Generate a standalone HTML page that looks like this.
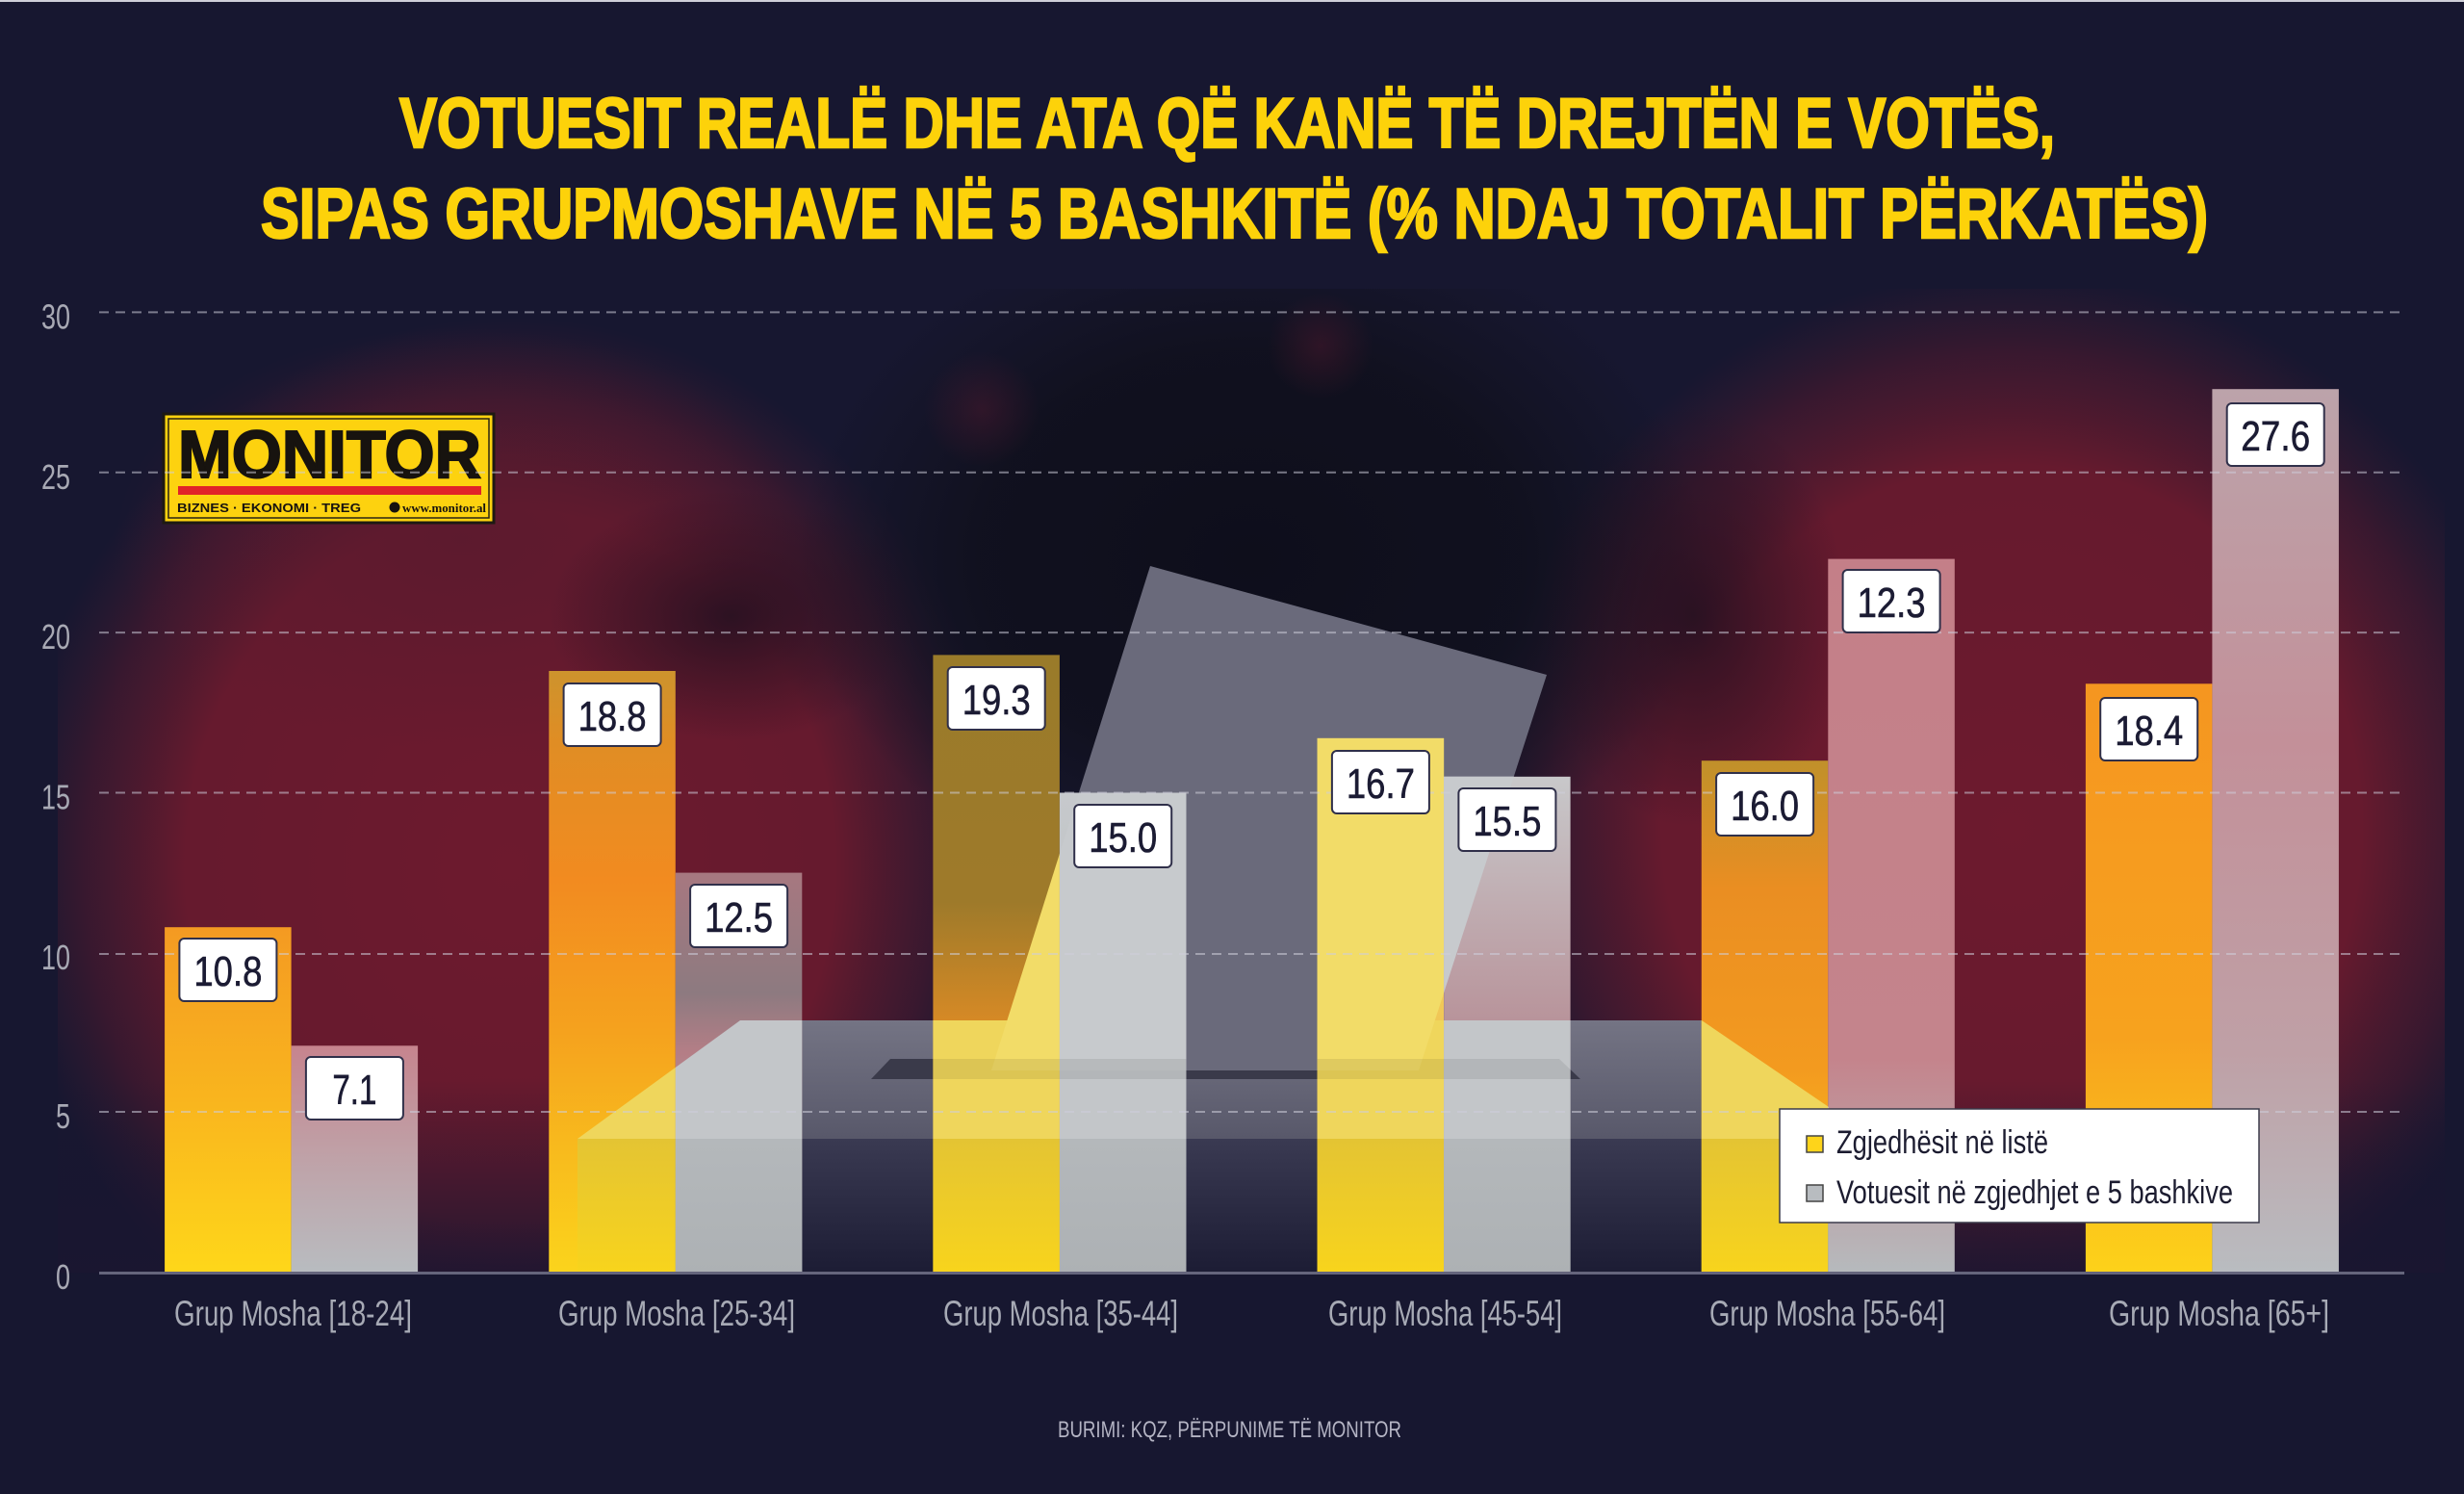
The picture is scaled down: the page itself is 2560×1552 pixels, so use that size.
<!DOCTYPE html>
<html><head><meta charset="utf-8"><style>
html,body{margin:0;padding:0;background:#171730;}
svg{display:block}
text{font-family:"Liberation Sans Narrow","Liberation Sans",sans-serif;}
</style></head><body>
<svg width="2560" height="1552" viewBox="0 0 2560 1552" xmlns="http://www.w3.org/2000/svg">
<defs>
 <clipPath id="plotclip"><rect x="60" y="300" width="2480" height="1022.5"/></clipPath>
 <radialGradient id="maroon"><stop offset="0" stop-color="#6d1a2e" stop-opacity="1"/><stop offset="0.65" stop-color="#6a1a2e" stop-opacity="0.95"/><stop offset="0.85" stop-color="#5a1a2e" stop-opacity="0.5"/><stop offset="1" stop-color="#4a1a2e" stop-opacity="0"/></radialGradient>
 <radialGradient id="maroonSoft"><stop offset="0" stop-color="#5a1a2e" stop-opacity="0.8"/><stop offset="1" stop-color="#5a1a2e" stop-opacity="0"/></radialGradient>
 <radialGradient id="dark"><stop offset="0" stop-color="#0e0e1b" stop-opacity="1"/><stop offset="0.6" stop-color="#10101d" stop-opacity="0.9"/><stop offset="1" stop-color="#12121f" stop-opacity="0"/></radialGradient>
 <radialGradient id="shadow"><stop offset="0" stop-color="#221020" stop-opacity="0.85"/><stop offset="1" stop-color="#221020" stop-opacity="0"/></radialGradient>
 <radialGradient id="spot"><stop offset="0" stop-color="#5a1a30" stop-opacity="0.4"/><stop offset="1" stop-color="#5a1a30" stop-opacity="0"/></radialGradient>
 <linearGradient id="bottomDark" x1="0" y1="0" x2="0" y2="1"><stop offset="0" stop-color="#1a1630" stop-opacity="0"/><stop offset="1" stop-color="#1a1630" stop-opacity="0.85"/></linearGradient>
 <linearGradient id="boxTop" x1="0" y1="0" x2="0" y2="1"><stop offset="0" stop-color="#747484"/><stop offset="1" stop-color="#58586a"/></linearGradient>
 <linearGradient id="boxFront" x1="0" y1="0" x2="0" y2="1"><stop offset="0" stop-color="#3a3a52"/><stop offset="1" stop-color="#1c1c34"/></linearGradient>
 <linearGradient id="y1" x1="0" y1="0" x2="0" y2="1"><stop offset="0" stop-color="#f49a22"/><stop offset="0.5" stop-color="#f9b51e"/><stop offset="1" stop-color="#fed71a"/></linearGradient>
 <linearGradient id="g1" x1="0" y1="0" x2="0" y2="1"><stop offset="0" stop-color="#c6848e"/><stop offset="0.5" stop-color="#bfa2a8"/><stop offset="1" stop-color="#b8bcc0"/></linearGradient>
 <linearGradient id="y2" x1="0" y1="0" x2="0" y2="1"><stop offset="0" stop-color="#cd932d"/><stop offset="0.12" stop-color="#e08d24"/><stop offset="0.35" stop-color="#f28b20"/><stop offset="0.6" stop-color="#f5a21e"/><stop offset="1" stop-color="#fbd41c"/></linearGradient>
 <linearGradient id="g2" x1="0" y1="0" x2="0" y2="1"><stop offset="0" stop-color="#a77880"/><stop offset="0.3" stop-color="#8d7a80"/><stop offset="0.45" stop-color="#b47e86"/><stop offset="1" stop-color="#b2b6b9"/></linearGradient>
 <linearGradient id="y3" x1="0" y1="0" x2="0" y2="1"><stop offset="0" stop-color="#9a7b2a"/><stop offset="0.4" stop-color="#9e7a2a"/><stop offset="0.6" stop-color="#d88a25"/><stop offset="1" stop-color="#e8c836"/></linearGradient>
 <linearGradient id="g3" x1="0" y1="0" x2="0" y2="1"><stop offset="0" stop-color="#c6c9cc"/><stop offset="1" stop-color="#b0b4b7"/></linearGradient>
 <linearGradient id="y4" x1="0" y1="0" x2="0" y2="1"><stop offset="0" stop-color="#f2dc6a"/><stop offset="0.7" stop-color="#f0c050"/><stop offset="1" stop-color="#e8c836"/></linearGradient>
 <linearGradient id="g4" x1="0" y1="0" x2="0" y2="1"><stop offset="0" stop-color="#c8c8ca"/><stop offset="0.5" stop-color="#b8939a"/><stop offset="1" stop-color="#b0b4b7"/></linearGradient>
 <linearGradient id="y5" x1="0" y1="0" x2="0" y2="1"><stop offset="0" stop-color="#c0902a"/><stop offset="0.25" stop-color="#ea8e22"/><stop offset="0.6" stop-color="#f39a1f"/><stop offset="1" stop-color="#fdd51c"/></linearGradient>
 <linearGradient id="g5" x1="0" y1="0" x2="0" y2="1"><stop offset="0" stop-color="#c47f88"/><stop offset="0.7" stop-color="#c4848c"/><stop offset="1" stop-color="#b6babd"/></linearGradient>
 <linearGradient id="y6" x1="0" y1="0" x2="0" y2="1"><stop offset="0" stop-color="#f59620"/><stop offset="0.6" stop-color="#f7a21e"/><stop offset="1" stop-color="#fdd21a"/></linearGradient>
 <linearGradient id="g6" x1="0" y1="0" x2="0" y2="1"><stop offset="0" stop-color="#bca3aa"/><stop offset="0.4" stop-color="#c39099"/><stop offset="0.75" stop-color="#bfa0a6"/><stop offset="1" stop-color="#b9bcc0"/></linearGradient>
 <linearGradient id="frontY" x1="0" y1="0" x2="0" y2="1"><stop offset="0" stop-color="#e4c433"/><stop offset="1" stop-color="#f8d41c"/></linearGradient>
 <linearGradient id="frontG" x1="0" y1="0" x2="0" y2="1"><stop offset="0" stop-color="#b4b8bb"/><stop offset="1" stop-color="#adb1b4"/></linearGradient>
 <clipPath id="yb">
  <rect x="171.1" y="963.2" width="131.5" height="359.3"/>
  <rect x="570.3" y="697.0" width="131.5" height="625.5"/>
  <rect x="969.4" y="680.4" width="131.5" height="642.1"/>
  <rect x="1368.6" y="766.9" width="131.5" height="555.6"/>
  <rect x="1767.8" y="790.2" width="131.5" height="532.3"/>
  <rect x="2166.9" y="710.3" width="131.5" height="612.2"/>
 </clipPath>
 <clipPath id="gb">
  <rect x="302.6" y="1086.3" width="131.5" height="236.2"/>
  <rect x="701.8" y="906.6" width="131.5" height="415.9"/>
  <rect x="1100.9" y="823.5" width="131.5" height="499"/>
  <rect x="1500.1" y="806.8" width="131.5" height="515.7"/>
  <rect x="1899.3" y="580.6" width="131.5" height="741.9"/>
  <rect x="2298.4" y="404.2" width="131.5" height="918.3"/>
 </clipPath>
</defs>

<rect width="2560" height="1552" fill="#171730"/>
<rect x="0" y="0" width="2560" height="2" fill="#cfcfd8"/>

<!-- background glow -->
<g clip-path="url(#plotclip)">
  <ellipse cx="530" cy="900" rx="520" ry="570" fill="url(#maroon)"/>
  <ellipse cx="2090" cy="860" rx="560" ry="580" fill="url(#maroon)"/>
  <ellipse cx="480" cy="560" rx="360" ry="220" fill="url(#maroonSoft)"/>
  <ellipse cx="1300" cy="580" rx="470" ry="360" fill="url(#dark)"/>
  <ellipse cx="760" cy="640" rx="190" ry="130" fill="url(#shadow)"/>
  <ellipse cx="1760" cy="640" rx="160" ry="220" fill="url(#shadow)"/>
  <ellipse cx="1020" cy="425" rx="60" ry="60" fill="url(#spot)"/>
  <ellipse cx="1372" cy="359" rx="55" ry="55" fill="url(#spot)"/>
  <rect x="60" y="1120" width="2480" height="203" fill="url(#bottomDark)"/>
</g>

<!-- ballot box & paper -->
<polygon points="769,1060 1768,1060 1900,1150 1900,1183 600,1183" fill="url(#boxTop)"/>
<polygon points="925,1100 1620,1100 1642,1121 905,1121" fill="#3a3a4a"/>
<polygon points="1195,588 1607,701 1474,1112 1030,1112" fill="#6a6a7b"/>
<rect x="600" y="1183" width="1300" height="139.5" fill="url(#boxFront)"/>

<!-- bars -->
<rect x="171.1" y="963.2" width="131.5" height="359.3" fill="url(#y1)"/>
<rect x="302.6" y="1086.3" width="131.5" height="236.2" fill="url(#g1)"/>
<rect x="570.3" y="697.0" width="131.5" height="625.5" fill="url(#y2)"/>
<rect x="701.8" y="906.6" width="131.5" height="415.9" fill="url(#g2)"/>
<rect x="969.4" y="680.4" width="131.5" height="642.1" fill="url(#y3)"/>
<rect x="1100.9" y="823.5" width="131.5" height="499" fill="url(#g3)"/>
<rect x="1368.6" y="766.9" width="131.5" height="555.6" fill="url(#y4)"/>
<rect x="1500.1" y="806.8" width="131.5" height="515.7" fill="url(#g4)"/>
<rect x="1767.8" y="790.2" width="131.5" height="532.3" fill="url(#y5)"/>
<rect x="1899.3" y="580.6" width="131.5" height="741.9" fill="url(#g5)"/>
<rect x="2166.9" y="710.3" width="131.5" height="612.2" fill="url(#y6)"/>
<rect x="2298.4" y="404.2" width="131.5" height="918.3" fill="url(#g6)"/>

<!-- overlays of box/paper inside bars -->
<g clip-path="url(#yb)">
 <polygon points="769,1060 1768,1060 1900,1150 1900,1183 600,1183" fill="#efd65c"/>
 <polygon points="1195,588 1607,701 1474,1112 1030,1112" fill="#f2dc68"/>
 <polygon points="925,1100 1620,1100 1642,1121 905,1121" fill="#000" opacity="0.08"/>
 <rect x="600" y="1183" width="1300" height="139.5" fill="url(#frontY)"/>
</g>
<g clip-path="url(#gb)">
 <polygon points="769,1060 1768,1060 1900,1150 1900,1183 600,1183" fill="#c3c6c9"/>
 <polygon points="1195,588 1607,701 1474,1112 1030,1112" fill="#c7cacd"/>
 <polygon points="925,1100 1620,1100 1642,1121 905,1121" fill="#000" opacity="0.08"/>
 <rect x="600" y="1183" width="1300" height="139.5" fill="url(#frontG)"/>
</g>

<!-- logo -->
<g>
 <rect x="170" y="430" width="343" height="113" fill="#fdd20f" stroke="#1e1a12" stroke-width="3"/>
 <rect x="175" y="435" width="333" height="103" fill="none" stroke="#2a2412" stroke-width="1.5"/>
 <text x="185" y="496" font-size="70" font-weight="bold" fill="#17130f" stroke="#17130f" stroke-width="2" textLength="315" lengthAdjust="spacingAndGlyphs" style="font-family:'Liberation Sans',sans-serif">MONITOR</text>
 <rect x="185" y="505" width="315" height="9" fill="#e12228"/>
 <text x="184" y="532" font-size="13" font-weight="bold" fill="#17130f" textLength="191" lengthAdjust="spacingAndGlyphs" style="font-family:'Liberation Sans',sans-serif">BIZNES  ·  EKONOMI  ·  TREG</text>
 <circle cx="410" cy="527" r="5.5" fill="#17130f"/>
 <text x="418" y="532" font-size="13" font-weight="bold" fill="#17130f" textLength="87" lengthAdjust="spacingAndGlyphs" style="font-family:'Liberation Serif',serif">www.monitor.al</text>
</g>

<!-- gridlines -->
<g stroke="rgba(205,205,218,0.55)" stroke-width="2" stroke-dasharray="10 7" fill="none">
 <line x1="103" y1="324.4" x2="2498" y2="324.4"/>
 <line x1="103" y1="490.8" x2="2498" y2="490.8"/>
 <line x1="103" y1="657.1" x2="2498" y2="657.1"/>
 <line x1="103" y1="823.5" x2="2498" y2="823.5"/>
 <line x1="103" y1="991" x2="2498" y2="991"/>
 <line x1="103" y1="1155" x2="2498" y2="1155"/>
</g>
<line x1="103" y1="1322.5" x2="2498" y2="1322.5" stroke="#65657c" stroke-width="3"/>

<!-- y labels -->
<g fill="#a8a9b4" font-size="36" text-anchor="end">
 <text x="73" y="341.4" textLength="30" lengthAdjust="spacingAndGlyphs">30</text>
 <text x="73" y="507.8" textLength="30" lengthAdjust="spacingAndGlyphs">25</text>
 <text x="73" y="674.1" textLength="30" lengthAdjust="spacingAndGlyphs">20</text>
 <text x="73" y="840.5" textLength="30" lengthAdjust="spacingAndGlyphs">15</text>
 <text x="73" y="1007" textLength="30" lengthAdjust="spacingAndGlyphs">10</text>
 <text x="73" y="1172" textLength="15" lengthAdjust="spacingAndGlyphs">5</text>
 <text x="73" y="1339" textLength="15" lengthAdjust="spacingAndGlyphs">0</text>
</g>

<!-- x labels -->
<g fill="#a7aab5" font-size="37" text-anchor="middle">
 <text x="304.5" y="1377" textLength="247" lengthAdjust="spacingAndGlyphs">Grup Mosha [18-24]</text>
 <text x="703" y="1377" textLength="246" lengthAdjust="spacingAndGlyphs">Grup Mosha [25-34]</text>
 <text x="1102" y="1377" textLength="244" lengthAdjust="spacingAndGlyphs">Grup Mosha [35-44]</text>
 <text x="1501.5" y="1377" textLength="243" lengthAdjust="spacingAndGlyphs">Grup Mosha [45-54]</text>
 <text x="1898.5" y="1377" textLength="245" lengthAdjust="spacingAndGlyphs">Grup Mosha [55-64]</text>
 <text x="2305.5" y="1377" textLength="229" lengthAdjust="spacingAndGlyphs">Grup Mosha [65+]</text>
</g>

<!-- value labels -->
<g>
 <g fill="#ffffff" stroke="#30304a" stroke-width="2">
  <rect x="186.4" y="975" width="101" height="65" rx="5"/>
  <rect x="317.9" y="1098" width="101" height="65" rx="5"/>
  <rect x="585.6" y="710" width="101" height="65" rx="5"/>
  <rect x="717.1" y="919" width="101" height="65" rx="5"/>
  <rect x="984.7" y="693" width="101" height="65" rx="5"/>
  <rect x="1116.2" y="836" width="101" height="65" rx="5"/>
  <rect x="1383.9" y="780" width="101" height="65" rx="5"/>
  <rect x="1515.4" y="819" width="101" height="65" rx="5"/>
  <rect x="1783.1" y="803" width="101" height="65" rx="5"/>
  <rect x="1914.6" y="592" width="101" height="65" rx="5"/>
  <rect x="2182.2" y="725" width="101" height="65" rx="5"/>
  <rect x="2313.7" y="419" width="101" height="65" rx="5"/>
 </g>
 <g fill="#1b1b33" font-size="44" text-anchor="middle" stroke="#1b1b33" stroke-width="0.6">
  <text x="236.9" y="1024" textLength="71" lengthAdjust="spacingAndGlyphs">10.8</text>
  <text x="368.4" y="1147" textLength="46" lengthAdjust="spacingAndGlyphs">7.1</text>
  <text x="636.1" y="759" textLength="71" lengthAdjust="spacingAndGlyphs">18.8</text>
  <text x="767.6" y="968" textLength="71" lengthAdjust="spacingAndGlyphs">12.5</text>
  <text x="1035.2" y="742" textLength="71" lengthAdjust="spacingAndGlyphs">19.3</text>
  <text x="1166.7" y="885" textLength="71" lengthAdjust="spacingAndGlyphs">15.0</text>
  <text x="1434.4" y="829" textLength="71" lengthAdjust="spacingAndGlyphs">16.7</text>
  <text x="1565.9" y="868" textLength="71" lengthAdjust="spacingAndGlyphs">15.5</text>
  <text x="1833.6" y="852" textLength="71" lengthAdjust="spacingAndGlyphs">16.0</text>
  <text x="1965.1" y="641" textLength="71" lengthAdjust="spacingAndGlyphs">12.3</text>
  <text x="2232.7" y="774" textLength="71" lengthAdjust="spacingAndGlyphs">18.4</text>
  <text x="2364.2" y="468" textLength="72" lengthAdjust="spacingAndGlyphs">27.6</text>
 </g>
</g>

<!-- legend -->
<rect x="1849" y="1152" width="498" height="118" fill="#ffffff" stroke="#3a3a4a" stroke-width="1.5"/>
<rect x="1877" y="1180" width="17" height="17" fill="#fed41a" stroke="#444" stroke-width="1.5"/>
<rect x="1877" y="1231" width="17" height="17" fill="#b8bcc0" stroke="#444" stroke-width="1.5"/>
<text x="1908" y="1198" font-size="34" fill="#1c1c30" textLength="220" lengthAdjust="spacingAndGlyphs">Zgjedhësit në listë</text>
<text x="1908" y="1250" font-size="34" fill="#1c1c30" textLength="412" lengthAdjust="spacingAndGlyphs">Votuesit në zgjedhjet e 5 bashkive</text>

<!-- title -->
<g fill="#fdd20a" stroke="#fdd20a" stroke-width="2.5" font-weight="bold" font-size="73">
 <text x="415" y="153" textLength="1720" lengthAdjust="spacingAndGlyphs">VOTUESIT REALË DHE ATA QË KANË TË DREJTËN E VOTËS,</text>
 <text x="271" y="247" textLength="2023" lengthAdjust="spacingAndGlyphs">SIPAS GRUPMOSHAVE NË 5 BASHKITË (% NDAJ TOTALIT PËRKATËS)</text>
</g>

<!-- footer -->
<text x="1277.5" y="1493" font-size="24" fill="#b4b4c4" text-anchor="middle" textLength="357" lengthAdjust="spacingAndGlyphs">BURIMI: KQZ, PËRPUNIME TË MONITOR</text>
</svg>
</body></html>
